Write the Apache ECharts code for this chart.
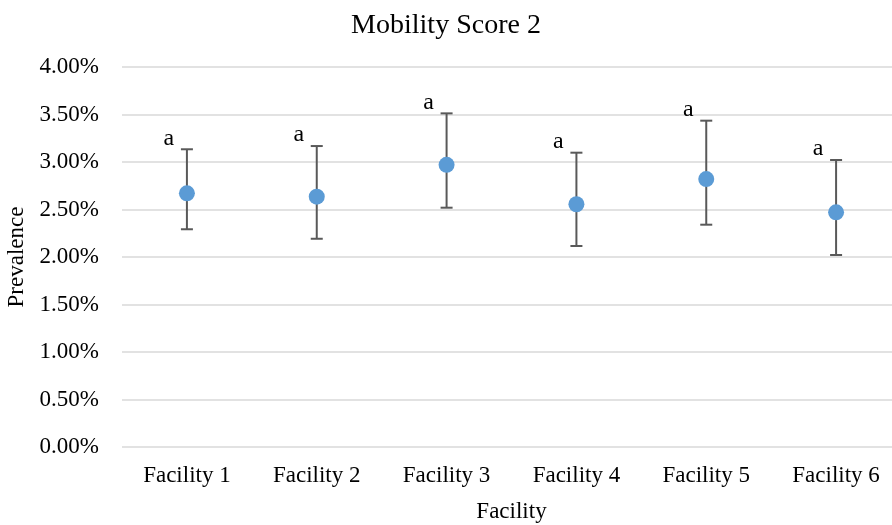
<!DOCTYPE html>
<html>
<head>
<meta charset="utf-8">
<script src="https://cdn.jsdelivr.net/npm/echarts@6/dist/echarts.min.js"></script>
<style>
  html, body { margin: 0; padding: 0; background: #fff; }
  #chart { width: 892px; height: 525px; }
</style>
</head>
<body>
<div id="chart"></div>
<script>
// prevalence in percent
const facilities = ['Facility 1', 'Facility 2', 'Facility 3', 'Facility 4', 'Facility 5', 'Facility 6']
const prevalence = [2.67, 2.635, 2.97, 2.555, 2.82, 2.47]
const upper = [3.134, 3.168, 3.512, 3.098, 3.435, 3.021]
const lower = [2.292, 2.192, 2.519, 2.116, 2.34, 2.021]
const letters = ['a', 'a', 'a', 'a', 'a', 'a']

const font = '"Liberation Serif", "Times New Roman", serif'
const chart = echarts.init(document.getElementById('chart'))

const errData = facilities.map((f, i) => [i, lower[i], upper[i], letters[i]])

chart.setOption({
  animation: false,
  title: {
    text: 'Mobility Score 2',
    left: 'center',
    top: 7,
    textStyle: { fontFamily: font, fontSize: 28, fontWeight: 'normal', color: '#000' },
  },
  grid: { left: 122, right: -9, top: 67, bottom: 78, outerBoundsMode: 'none' },
  xAxis: {
    type: 'category',
    data: facilities,
    name: 'Facility',
    nameLocation: 'middle',
    nameGap: 53,
    nameTextStyle: { fontFamily: font, fontSize: 23, color: '#000' },
    axisLine: { show: false },
    axisTick: { show: false },
    axisLabel: { fontFamily: font, fontSize: 23, color: '#000', margin: 17 },
  },
  yAxis: {
    type: 'value',
    min: 0,
    max: 4,
    interval: 0.5,
    name: 'Prevalence',
    nameLocation: 'middle',
    nameGap: 90,
    nameTextStyle: { fontFamily: font, fontSize: 23, color: '#000' },
    axisLabel: {
      fontFamily: font,
      fontSize: 23,
      color: '#000',
      margin: 23,
      formatter: (v) => v.toFixed(2) + '%',
    },
    splitLine: { lineStyle: { color: '#d9d9d9', width: 1.5 } },
  },
  series: [
    {
      type: 'custom',
      data: errData,
      z: 1,
      clip: false,
      renderItem: (params, api) => {
        const x = api.value(0)
        const lo = api.coord([x, api.value(1)])
        const hi = api.coord([x, api.value(2)])
        const cap = 6
        const style = { stroke: '#595959', lineWidth: 2 }
        return {
          type: 'group',
          children: [
            { type: 'line', shape: { x1: lo[0], y1: lo[1], x2: hi[0], y2: hi[1] }, style },
            { type: 'line', shape: { x1: lo[0] - cap, y1: lo[1], x2: lo[0] + cap, y2: lo[1] }, style },
            { type: 'line', shape: { x1: hi[0] - cap, y1: hi[1], x2: hi[0] + cap, y2: hi[1] }, style },
            {
              type: 'text',
              x: hi[0] - 18,
              y: hi[1] - 11,
              style: {
                text: api.value(3),
                fontFamily: font,
                fontSize: 24,
                fill: '#000',
                align: 'center',
                verticalAlign: 'middle',
              },
            },
          ],
        }
      },
    },
    {
      type: 'scatter',
      data: prevalence,
      symbolSize: 16,
      z: 3,
      itemStyle: { color: '#5b9bd5', opacity: 1 },
    },
  ],
})
</script>
</body>
</html>
